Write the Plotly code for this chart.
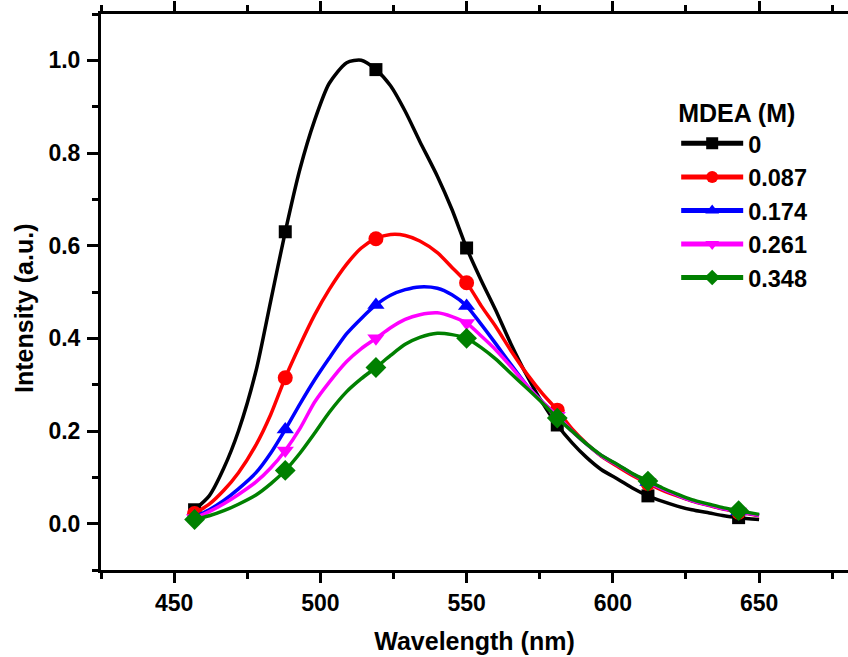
import plotly.graph_objects as go

# Wavelength grid (nm)
wavelength = [457, 462, 467, 472, 478, 483, 488, 493, 498, 503, 509, 514, 519, 524, 529,
              534, 540, 545, 550, 555, 560, 565, 571, 576, 581, 586, 591, 596, 602, 607,
              612, 617, 622, 627, 633, 638, 643, 650]
# points that carry a symbol in the original plot
marker_flag = [1, 0, 0, 0, 0, 0, 1, 0, 0, 0, 0, 0, 1, 0, 0, 0, 0, 0, 1, 0, 0, 0, 0, 0,
               1, 0, 0, 0, 0, 0, 1, 0, 0, 0, 0, 0, 1, 0]

mdea_labels = ["0", "0.087", "0.174", "0.261", "0.348"]

int_0 = [0.030, 0.060, 0.120, 0.200, 0.330, 0.480, 0.630, 0.765, 0.870, 0.950, 0.995, 1.000,
         0.980, 0.945, 0.890, 0.825, 0.750, 0.678, 0.595, 0.525, 0.460, 0.390, 0.315, 0.260,
         0.213, 0.175, 0.143, 0.117, 0.095, 0.076, 0.060, 0.048, 0.038, 0.030, 0.023, 0.017,
         0.013, 0.009]
int_0087 = [0.022, 0.042, 0.072, 0.110, 0.170, 0.235, 0.315, 0.385, 0.450, 0.505, 0.560, 0.595,
            0.615, 0.624, 0.622, 0.610, 0.585, 0.553, 0.520, 0.470, 0.425, 0.375, 0.320, 0.280,
            0.245, 0.205, 0.173, 0.146, 0.122, 0.103, 0.087, 0.072, 0.060, 0.049, 0.039, 0.031,
            0.025, 0.017]
int_0174 = [0.015, 0.030, 0.050, 0.075, 0.110, 0.152, 0.203, 0.258, 0.310, 0.357, 0.410, 0.443,
            0.472, 0.493, 0.505, 0.511, 0.508, 0.494, 0.470, 0.430, 0.388, 0.345, 0.295, 0.262,
            0.232, 0.200, 0.172, 0.147, 0.125, 0.106, 0.090, 0.075, 0.062, 0.050, 0.040, 0.032,
            0.026, 0.018]
int_0261 = [0.012, 0.026, 0.043, 0.063, 0.090, 0.120, 0.158, 0.205, 0.262, 0.305, 0.350, 0.378,
            0.400, 0.423, 0.441, 0.451, 0.455, 0.447, 0.433, 0.405, 0.375, 0.340, 0.295, 0.262,
            0.233, 0.200, 0.172, 0.147, 0.125, 0.106, 0.090, 0.075, 0.062, 0.050, 0.040, 0.032,
            0.026, 0.018]
int_0348 = [0.009, 0.017, 0.028, 0.042, 0.062, 0.086, 0.115, 0.152, 0.195, 0.240, 0.285, 0.313,
            0.337, 0.363, 0.387, 0.402, 0.411, 0.408, 0.400, 0.380, 0.355, 0.325, 0.290, 0.260,
            0.228, 0.200, 0.172, 0.148, 0.126, 0.107, 0.092, 0.077, 0.064, 0.052, 0.042, 0.034,
            0.028, 0.020]

series = [int_0, int_0087, int_0174, int_0261, int_0348]
colors = ["#000000", "#FF0000", "#0000FF", "#FF00FF", "#008000"]
symbols = ["square", "circle", "triangle-up", "triangle-down", "diamond"]
msizes = [13, 15, 15, 15, 16]

FONT = "Liberation Sans, Arial, sans-serif"

fig = go.Figure()
for lab, ys, c, s, ms in zip(mdea_labels, series, colors, symbols, msizes):
    fig.add_trace(go.Scatter(
        x=wavelength, y=ys, name=lab, mode="lines+markers",
        line=dict(color=c, width=3.5, shape="spline", smoothing=0.7),
        marker=dict(symbol=s, color=c, size=[ms * f for f in marker_flag],
                    opacity=1, line=dict(width=0)),
    ))

axis_font = dict(family=FONT, size=23, color="black", weight="bold")

fig.update_layout(
    width=848, height=657,
    margin=dict(l=101, r=0, t=14, b=87),
    paper_bgcolor="white", plot_bgcolor="white",
    font=dict(family=FONT, color="black", weight="bold"),
    showlegend=True,
    legend=dict(
        title=dict(text="MDEA (M)", font=dict(family=FONT, size=25, weight="bold")),
        font=dict(family=FONT, size=23.5, color="black", weight="bold"),
        x=0.770, y=0.865, xanchor="left", yanchor="top",
        bgcolor="rgba(0,0,0,0)", borderwidth=0,
        itemsizing="constant", itemwidth=62, tracegroupgap=0,
    ),
    xaxis=dict(
        range=[425, 680.4], tick0=450, dtick=50,
        showline=True, linewidth=3, linecolor="black", mirror="ticks",
        ticks="outside", ticklen=10, tickwidth=3, tickcolor="black",
        ticklabelstandoff=0,
        minor=dict(dtick=25, tick0=425, ticklen=6, tickwidth=3, tickcolor="black", ticks="outside"),
        showgrid=False, zeroline=False,
        tickfont=axis_font,
        title=dict(text="Wavelength (nm)", font=dict(family=FONT, size=25, weight="bold"), standoff=18),
    ),
    yaxis=dict(
        range=[-0.1, 1.1], tick0=0, dtick=0.2, tickformat=".1f",
        showline=True, linewidth=3, linecolor="black", mirror=False,
        ticks="outside", ticklen=11, tickwidth=3, tickcolor="black",
        ticklabelstandoff=2,
        minor=dict(dtick=0.1, tick0=-0.1, ticklen=6, tickwidth=3, tickcolor="black", ticks="outside"),
        showgrid=False, zeroline=False,
        tickfont=axis_font,
    ),
    annotations=[dict(
        text="Intensity (a.u.)", textangle=-90, showarrow=False,
        xref="paper", yref="paper", x=-0.104, y=0.47, xanchor="center", yanchor="middle",
        font=dict(family=FONT, size=25, color="black", weight="bold"),
    )],
)

fig.write_html("out.html", config={"displayModeBar": False},
               post_script="document.body.style.margin='0';")
